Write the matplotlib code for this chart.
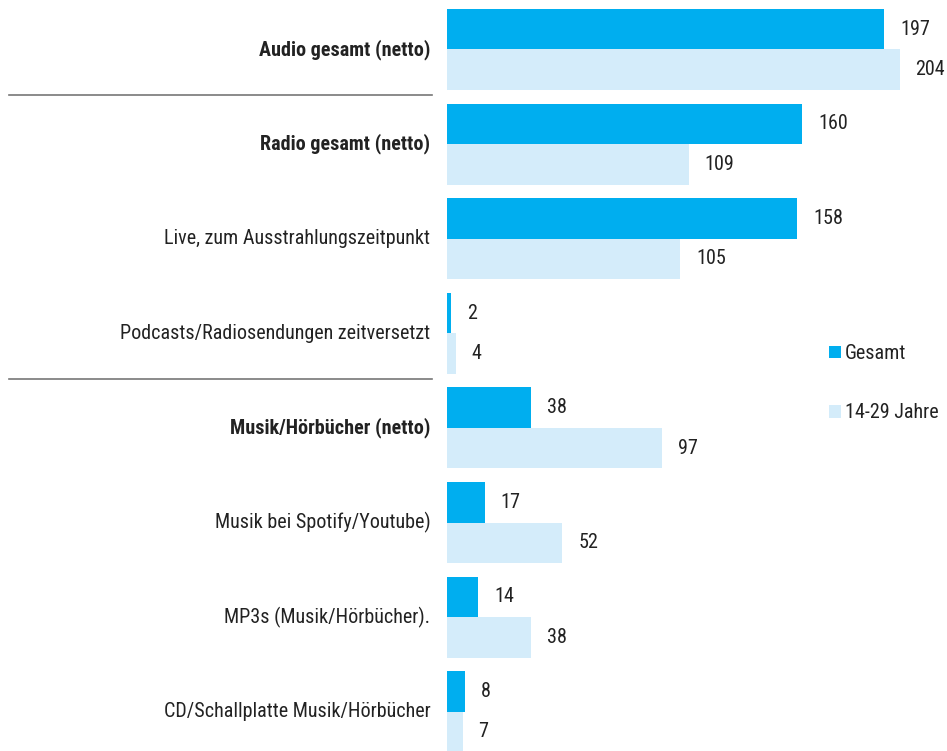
"""Audio-Nutzung: Gesamt vs. 14-29 Jahre als gruppierte Balken."""

import matplotlib.pyplot as plt
import matplotlib.transforms as mtransforms
import numpy as np

plt.rcParams['font.family'] = ['Roboto Condensed', 'PT Sans Narrow', 'Archivo Narrow',
                               'Fira Sans Condensed', 'Liberation Sans', 'DejaVu Sans']

categories = [
    "Audio gesamt (netto)",
    "Radio gesamt (netto)",
    "Live, zum Ausstrahlungszeitpunkt",
    "Podcasts/Radiosendungen zeitversetzt",
    "Musik/Hörbücher (netto)",
    "Musik bei Spotify/Youtube)",
    "MP3s (Musik/Hörbücher).",
    "CD/Schallplatte Musik/Hörbücher",
]
bold_rows = [0, 1, 4]
separators_after = [0, 3]

gesamt = [197, 160, 158, 2, 38, 17, 14, 8]
jung = [204, 109, 105, 4, 97, 52, 38, 7]

series_names = ["Gesamt", "14-29 Jahre"]
dark = "#00aeef"
light = "#d4ecfa"
text_color = "#222222"

fig = plt.figure(figsize=(9.47, 7.51), dpi=100)
ax = fig.add_axes([447 / 947, 0, 500 / 947, 1])

y = np.arange(len(categories))
h = 0.428

b1 = ax.barh(y - h / 2, gesamt, height=h, color=dark, label=series_names[0])
b2 = ax.barh(y + h / 2, jung, height=h, color=light, label=series_names[1])

for bars in (b1, b2):
    for rect in bars:
        w = rect.get_width()
        ax.annotate(f"{w:g}", (w, rect.get_y() + rect.get_height() / 2),
                    xytext=(11.5, 0), textcoords="offset points",
                    va="center", ha="left", fontsize=14.5, color=text_color)

ax.set_xlim(0, 225.4)
ax.set_ylim(7.415, -0.523)
ax.axis("off")

for i, name in enumerate(categories):
    ax.annotate(name, (0, i), xytext=(-12, 0), textcoords="offset points",
                ha="right", va="center", fontsize=14.5, color=text_color,
                fontweight="bold" if i in bold_rows else "normal",
                annotation_clip=False)

trans = mtransforms.blended_transform_factory(fig.transFigure, ax.transData)
for i in separators_after:
    ax.plot([9 / 947, 432 / 947], [i + 0.48, i + 0.48], transform=trans,
            color="#777777", lw=1.2, clip_on=False)

ax.legend(loc="upper left", bbox_to_anchor=(819 / 947, 1 - 334 / 751),
          bbox_transform=fig.transFigure, frameon=False, fontsize=14.5,
          handlelength=0.6, handleheight=0.6, handletextpad=0.2,
          labelspacing=2.0, borderpad=0, labelcolor=text_color)

fig.savefig("out.png", dpi=100)
